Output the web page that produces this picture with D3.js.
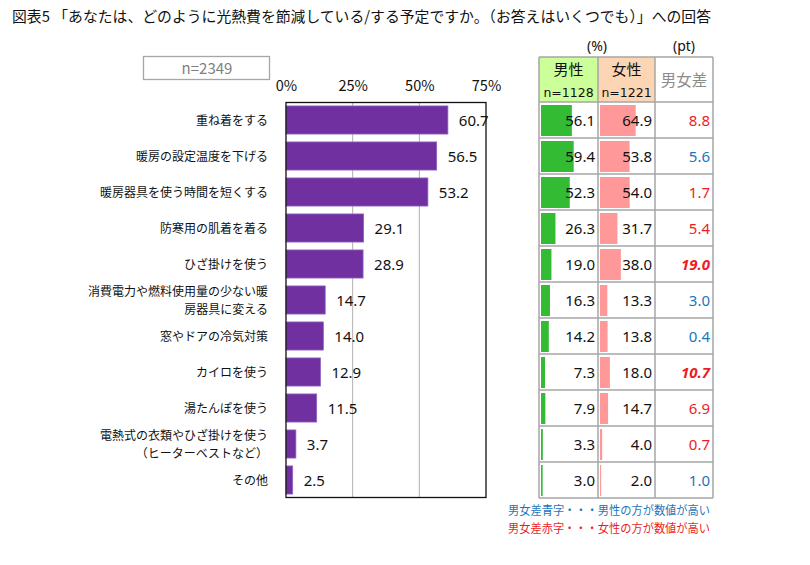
<!DOCTYPE html>
<html>
<head>
<meta charset="utf-8">
<script src="https://cdn.jsdelivr.net/npm/d3@7"></script>
<style>
  body { margin:0; background:#fff; }
  svg { display:block; }
</style>
</head>
<body>
<div id="chart"></div>
<script>
// data
var categories = [
  ["重ね着をする"],
  ["暖房の設定温度を下げる"],
  ["暖房器具を使う時間を短くする"],
  ["防寒用の肌着を着る"],
  ["ひざ掛けを使う"],
  ["消費電力や燃料使用量の少ない暖", "房器具に変える"],
  ["窓やドアの冷気対策"],
  ["カイロを使う"],
  ["湯たんぽを使う"],
  ["電熱式の衣類やひざ掛けを使う", "（ヒーターベストなど）"],
  ["その他"]
]
var totals = [60.7, 56.5, 53.2, 29.1, 28.9, 14.7, 14.0, 12.9, 11.5, 3.7, 2.5]
var male   = [56.1, 59.4, 52.3, 26.3, 19.0, 16.3, 14.2, 7.3, 7.9, 3.3, 3.0]
var female = [64.9, 53.8, 54.0, 31.7, 38.0, 13.3, 13.8, 18.0, 14.7, 4.0, 2.0]
var diff   = [8.8, 5.6, 1.7, 5.4, 19.0, 3.0, 0.4, 10.7, 6.9, 0.7, 1.0]
var xTicks = [0, 25, 50, 75]

var jp = '"Noto Sans CJK JP", "Noto Sans", sans-serif'
var num = '"DejaVu Sans", sans-serif'
var lat = '"Noto Sans", sans-serif'
var RED = '#ee1c24', BLUE = '#1b75bc'

var svg = d3.select('#chart').append('svg')
  .attr('width', 810)
  .attr('height', 565)

// title
svg.append('text')
  .attr('x', 12).attr('y', 22)
  .attr('font-family', jp).attr('font-size', 15)
  .attr('textLength', 699).attr('lengthAdjust', 'spacingAndGlyphs')
  .attr('fill', '#111')
  .text('図表5 「あなたは、どのように光熱費を節減している/する予定ですか。（お答えはいくつでも）」への回答')

// n box
svg.append('rect')
  .attr('x', 143.5).attr('y', 56.5).attr('width', 126).attr('height', 23)
  .attr('fill', 'none').attr('stroke', '#a6a6a6').attr('stroke-width', 1.3)
svg.append('text')
  .attr('x', 207).attr('y', 73.5)
  .attr('text-anchor', 'middle')
  .attr('font-family', jp).attr('font-size', 15).attr('fill', '#7f7f7f')
  .text('n=2349')

// bar chart
var idx = d3.range(categories.length)
var x = d3.scaleLinear().domain([0, 75]).range([286, 486])
var y = d3.scaleBand().domain(idx).range([102, 498]).paddingInner(0.22).paddingOuter(0.11)

var axis = d3.axisTop(x).tickValues(xTicks).tickFormat(function(d){ return d + '%' }).tickSize(0).tickPadding(0)
var ax = svg.append('g').attr('transform', 'translate(0,91)').call(axis)
ax.select('.domain').remove()
ax.selectAll('text')
  .attr('font-family', jp).attr('font-size', 14.5).attr('fill', '#111')

// grid
svg.selectAll('.grid').data([25, 50]).enter().append('line')
  .attr('x1', function(d){ return x(d) }).attr('x2', function(d){ return x(d) })
  .attr('y1', 102).attr('y2', 498)
  .attr('stroke', '#b0b0b0').attr('stroke-width', 1)

svg.selectAll('.bar').data(idx).enter().append('rect')
  .attr('x', x(0))
  .attr('y', function(i){ return y(i) })
  .attr('width', function(i){ return x(totals[i]) - x(0) })
  .attr('height', y.bandwidth())
  .attr('fill', '#7030a0')
  .attr('stroke', '#9060c0').attr('stroke-width', 0.8)

// frame
svg.append('rect')
  .attr('x', x(0)).attr('y', 102.5)
  .attr('width', x(75) - x(0)).attr('height', 395)
  .attr('fill', 'none').attr('stroke', '#111').attr('stroke-width', 1.3)

svg.selectAll('.val').data(idx).enter().append('text')
  .attr('x', function(i){ return x(totals[i]) + 11 })
  .attr('y', function(i){ return y(i) + y.bandwidth() / 2 + 6 })
  .attr('font-family', lat).attr('font-size', 15).attr('fill', '#111')
  .text(function(i){ return totals[i].toFixed(1) })

var labels = svg.selectAll('.cat').data(idx).enter().append('text')
  .attr('text-anchor', 'end')
  .attr('font-family', jp).attr('font-size', 12).attr('fill', '#111')
labels.each(function(i){
  var lines = categories[i]
  var cy = y(i) + y.bandwidth() / 2
  var t = d3.select(this)
  lines.forEach(function(s, k){
    t.append('tspan')
      .attr('x', 268)
      .attr('y', cy + 4.5 + (k - (lines.length - 1) / 2) * 18)
      .text(s)
  })
})

// table
var cols = [539, 598, 655, 713]
var row = d3.scaleBand().domain(idx).range([102, 498])
var tb = d3.scaleLinear().domain([0, 100]).range([0, 55])

svg.append('rect').attr('x', cols[0]).attr('y', 57).attr('width', cols[1] - cols[0]).attr('height', 45).attr('fill', '#ccff99')
svg.append('rect').attr('x', cols[1]).attr('y', 57).attr('width', cols[2] - cols[1]).attr('height', 45).attr('fill', '#fcd5b4')

svg.selectAll('.mbar').data(idx).enter().append('rect')
  .attr('x', cols[0] + 2)
  .attr('y', function(i){ return row(i) + 3 })
  .attr('width', function(i){ return tb(male[i]) })
  .attr('height', row.bandwidth() - 5)
  .attr('fill', '#33bb33')
svg.selectAll('.fbar').data(idx).enter().append('rect')
  .attr('x', cols[1] + 2)
  .attr('y', function(i){ return row(i) + 3 })
  .attr('width', function(i){ return tb(female[i]) })
  .attr('height', row.bandwidth() - 5)
  .attr('fill', '#ff9999')

// grid lines of table
var gcol = '#a6a6a6'
var hl = [57, 102].concat(idx.map(function(i){ return row(i) + row.bandwidth() }))
svg.selectAll('.hl').data(hl).enter().append('line')
  .attr('x1', cols[0]).attr('x2', cols[3])
  .attr('y1', function(d){ return d }).attr('y2', function(d){ return d })
  .attr('stroke', gcol).attr('stroke-width', 1.5)
svg.selectAll('.vl').data(cols).enter().append('line')
  .attr('x1', function(d){ return d }).attr('x2', function(d){ return d })
  .attr('y1', 57).attr('y2', 498)
  .attr('stroke', gcol).attr('stroke-width', 1.5)

// header
function htext(xx, yy, s, size, fam, col) {
  svg.append('text').attr('x', xx).attr('y', yy).attr('text-anchor', 'middle')
    .attr('font-family', fam).attr('font-size', size).attr('fill', col || '#111')
    .text(s)
}
htext(597, 51, '(%)', 14, lat)
htext(684, 51, '(pt)', 14, lat)
htext((cols[0] + cols[1]) / 2, 75, '男性', 15, jp)
htext((cols[1] + cols[2]) / 2, 75, '女性', 15, jp)
htext((cols[0] + cols[1]) / 2, 97, 'n=1128', 12.5, num)
htext((cols[1] + cols[2]) / 2, 97, 'n=1221', 12.5, num)
htext((cols[2] + cols[3]) / 2, 86, '男女差', 15.5, jp, '#8c8c8c')

function rtext(data, xx, colorFn, styleFn) {
  svg.selectAll(null).data(idx).enter().append('text')
    .attr('x', xx)
    .attr('y', function(i){ return row(i) + row.bandwidth() / 2 + 6 })
    .attr('text-anchor', 'end')
    .attr('font-family', lat).attr('font-size', 15)
    .attr('fill', colorFn)
    .attr('font-weight', function(i){ return styleFn && styleFn(i) ? 'bold' : 'normal' })
    .attr('font-style', function(i){ return styleFn && styleFn(i) ? 'italic' : 'normal' })
    .text(function(i){ return data[i].toFixed(1) })
}
rtext(male, cols[1] - 3, '#111')
rtext(female, cols[2] - 3, '#111')
rtext(diff, cols[3] - 3,
  function(i){ return female[i] > male[i] ? RED : BLUE },
  function(i){ return diff[i] >= 10 })

// note
svg.append('text').attr('x', 508).attr('y', 515)
  .attr('font-family', jp).attr('font-size', 12).attr('fill', BLUE)
  .attr('textLength', 202).attr('lengthAdjust', 'spacingAndGlyphs')
  .text('男女差青字・・・男性の方が数値が高い')
svg.append('text').attr('x', 508).attr('y', 533)
  .attr('font-family', jp).attr('font-size', 12).attr('fill', RED)
  .attr('textLength', 202).attr('lengthAdjust', 'spacingAndGlyphs')
  .text('男女差赤字・・・女性の方が数値が高い')
</script>
</body>
</html>
